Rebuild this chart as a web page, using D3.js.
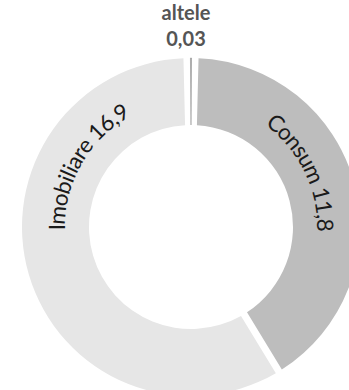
<!DOCTYPE html>
<html>
<head>
<meta charset="utf-8">
<script src="https://cdn.jsdelivr.net/npm/d3@7"></script>
<style>
  html, body { margin: 0; padding: 0; background: #fff; }
  svg { display: block; }
</style>
</head>
<body>
<svg id="chart" width="349" height="390"></svg>
<script>
// Loan stock by category
const categories = ["altele", "Consum", "Imobiliare"];
const values = [0.03, 11.8, 16.9];
const valueLabels = ["0,03", "11,8", "16,9"];
const colors = ["#9a9a9a", "#bdbdbd", "#e6e6e6"];

const width = 349, height = 390;
const cx = 191, cy = 227;
const outerR = 169, innerR = 102;
const gap = 7; // linear gap between slices, px

const data = categories.map((c, i) => ({ name: c, value: values[i], label: valueLabels[i], color: colors[i] }));

const svg = d3.select("#chart");
const g = svg.append("g").attr("transform", `translate(${cx},${cy})`);

// the tiny slice sits centred on twelve o'clock
const total = d3.sum(values);
const half0 = (values[0] / total) * Math.PI;
const padA = gap / outerR;

const pie = d3.pie()
  .value(d => d.value)
  .sort(null)
  .startAngle(-half0 - padA / 2)
  .endAngle(2 * Math.PI - half0 - padA / 2)
  .padAngle(padA);

const arc = d3.arc()
  .innerRadius(innerR)
  .outerRadius(outerR)
  .padRadius(outerR);

const arcs = pie(data);

g.selectAll("path.slice")
  .data(arcs)
  .join("path")
  .attr("class", "slice")
  .attr("d", arc)
  .attr("fill", d => d.data.color)
  .attr("stroke", d => d.index === 0 ? d.data.color : "none")
  .attr("stroke-width", d => d.index === 0 ? 0.6 : 0);

// curved labels for the two large slices
const labelAngleDeg = { Consum: 64, Imobiliare: 300 };
const textR = 134;

function arcPathAround(deg, r) {
  const a0 = (deg - 90) * Math.PI / 180, a1 = (deg + 90) * Math.PI / 180;
  const x0 = r * Math.sin(a0), y0 = -r * Math.cos(a0);
  const x1 = r * Math.sin(a1), y1 = -r * Math.cos(a1);
  return `M${x0},${y0} A${r},${r} 0 0 1 ${x1},${y1}`;
}

const defs = svg.append("defs");
arcs.filter(d => d.index > 0).forEach(d => {
  const id = "lab-" + d.data.name;
  defs.append("path").attr("id", id).attr("d", arcPathAround(labelAngleDeg[d.data.name], textR));
  g.append("text")
    .attr("font-family", "Lato, sans-serif")
    .attr("font-size", 22.5)
    .attr("fill", "#1a1a1a")
    .attr("dy", "0.35em")
    .append("textPath")
    .attr("href", "#" + id)
    .attr("startOffset", "50%")
    .attr("text-anchor", "middle")
    .text(`${d.data.name} ${d.data.label}`);
});

// label for the tiny slice, above the ring
const small = arcs[0];
const lab = svg.append("text")
  .attr("text-anchor", "middle")
  .attr("font-family", "Lato, sans-serif")
  .attr("font-weight", "bold")
  .attr("font-size", 20)
  .attr("fill", "#555");
lab.append("tspan").attr("x", cx - 5).attr("y", 20).text(small.data.name);
lab.append("tspan").attr("x", cx - 5).attr("y", 46).text(small.data.label);
</script>
</body>
</html>
